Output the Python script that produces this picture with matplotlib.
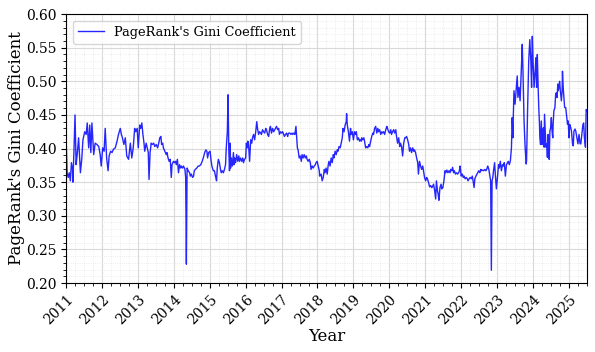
import numpy as np
import pandas as pd
import matplotlib
matplotlib.use("Agg")
import matplotlib.pyplot as plt
from matplotlib.ticker import MultipleLocator, AutoMinorLocator

# decimal year of each snapshot
years = [
    2011.00, 2011.03, 2011.06, 2011.09, 2011.12, 2011.15, 2011.18, 2011.19, 2011.22, 2011.25,
    2011.28, 2011.31, 2011.35, 2011.40, 2011.44, 2011.47, 2011.52, 2011.56, 2011.59, 2011.63,
    2011.66, 2011.69, 2011.72, 2011.77, 2011.81, 2011.86, 2011.91, 2011.95, 2011.98, 2012.02,
    2012.06, 2012.09, 2012.13, 2012.17, 2012.20, 2012.24, 2012.28, 2012.32, 2012.37, 2012.42,
    2012.46, 2012.51, 2012.54, 2012.57, 2012.61, 2012.65, 2012.69, 2012.74, 2012.79, 2012.83,
    2012.87, 2012.91, 2012.94, 2012.98, 2013.01,
    2013.05, 2013.08, 2013.11, 2013.14, 2013.17, 2013.19, 2013.23, 2013.26, 2013.29, 2013.31,
    2013.34, 2013.37, 2013.40, 2013.44, 2013.47, 2013.51, 2013.55, 2013.58, 2013.61, 2013.64,
    2013.66, 2013.69, 2013.71, 2013.75, 2013.79, 2013.81, 2013.84, 2013.87, 2013.90, 2013.93,
    2013.95, 2013.99, 2014.02, 2014.05, 2014.07, 2014.10, 2014.13, 2014.16, 2014.19, 2014.21,
    2014.24, 2014.27, 2014.31, 2014.33, 2014.35, 2014.37, 2014.40, 2014.44, 2014.46, 2014.49,
    2014.52, 2014.55, 2014.57, 2014.60, 2014.64, 2014.68, 2014.71, 2014.75, 2014.79, 2014.82,
    2014.86, 2014.89, 2014.92, 2014.94, 2014.97, 2015.01, 2015.04, 2015.06, 2015.10,
    2015.13, 2015.16, 2015.19, 2015.21, 2015.24, 2015.27, 2015.30, 2015.32, 2015.35, 2015.38,
    2015.41, 2015.44, 2015.46, 2015.49, 2015.51, 2015.53, 2015.55, 2015.57, 2015.58, 2015.60,
    2015.63, 2015.66, 2015.68, 2015.69, 2015.72, 2015.75, 2015.78, 2015.81, 2015.83, 2015.86,
    2015.89, 2015.92, 2015.94, 2015.97, 2016.00, 2016.02, 2016.04, 2016.06, 2016.08, 2016.11,
    2016.14, 2016.17, 2016.19, 2016.22, 2016.25, 2016.28, 2016.31, 2016.33, 2016.36, 2016.39,
    2016.42, 2016.44, 2016.47, 2016.50, 2016.53, 2016.56, 2016.58, 2016.61, 2016.64, 2016.67,
    2016.69, 2016.72, 2016.75, 2016.78, 2016.81, 2016.83, 2016.86, 2016.89, 2016.92, 2016.94,
    2016.97, 2017.00, 2017.03, 2017.06, 2017.08, 2017.11, 2017.14, 2017.17,
    2017.18, 2017.20, 2017.23, 2017.26, 2017.29, 2017.31, 2017.34, 2017.37, 2017.40, 2017.42,
    2017.44, 2017.46, 2017.49, 2017.52, 2017.55, 2017.57, 2017.60, 2017.63, 2017.66, 2017.69,
    2017.71, 2017.74, 2017.77, 2017.80, 2017.82, 2017.85, 2017.88, 2017.91, 2017.94, 2017.96,
    2017.99, 2018.02, 2018.05, 2018.06, 2018.10, 2018.13, 2018.16, 2018.19, 2018.21, 2018.24,
    2018.27, 2018.30, 2018.32, 2018.35, 2018.38, 2018.41, 2018.44, 2018.46, 2018.49, 2018.52,
    2018.55, 2018.57, 2018.60, 2018.63, 2018.66, 2018.69, 2018.71, 2018.74, 2018.77, 2018.80,
    2018.81, 2018.83, 2018.86, 2018.89, 2018.92, 2018.94, 2018.97, 2019.00, 2019.03, 2019.06,
    2019.08, 2019.11, 2019.14, 2019.17, 2019.19, 2019.22,
    2019.23, 2019.26, 2019.29, 2019.31, 2019.34, 2019.37, 2019.40, 2019.43, 2019.45, 2019.48,
    2019.51, 2019.54, 2019.56, 2019.59, 2019.62, 2019.65, 2019.68, 2019.70, 2019.73, 2019.76,
    2019.79, 2019.81, 2019.84, 2019.87, 2019.90, 2019.93, 2019.95, 2019.98, 2020.01, 2020.04,
    2020.06, 2020.09, 2020.12, 2020.15, 2020.18, 2020.20, 2020.23, 2020.26, 2020.29, 2020.31,
    2020.34, 2020.37, 2020.40, 2020.43, 2020.45, 2020.48, 2020.51, 2020.54, 2020.56, 2020.59,
    2020.62, 2020.65, 2020.68, 2020.70, 2020.73, 2020.76, 2020.79, 2020.81, 2020.84, 2020.87,
    2020.90, 2020.93, 2020.95, 2020.98, 2021.01, 2021.04, 2021.06, 2021.09, 2021.12, 2021.15,
    2021.18, 2021.20, 2021.23, 2021.26, 2021.29,
    2021.31, 2021.34, 2021.36, 2021.38, 2021.41, 2021.44, 2021.46, 2021.49, 2021.52, 2021.55,
    2021.57, 2021.60, 2021.63, 2021.66, 2021.69, 2021.71, 2021.74, 2021.76, 2021.79, 2021.81,
    2021.84, 2021.87, 2021.90, 2021.93, 2021.95, 2021.97, 2022.00, 2022.03, 2022.06, 2022.08,
    2022.11, 2022.14, 2022.17, 2022.19, 2022.22, 2022.25, 2022.28, 2022.31, 2022.33, 2022.36,
    2022.38, 2022.41, 2022.44, 2022.46, 2022.49, 2022.52, 2022.55, 2022.57, 2022.60, 2022.63,
    2022.66, 2022.69, 2022.71, 2022.74, 2022.77, 2022.80, 2022.82, 2022.84, 2022.86, 2022.88,
    2022.90, 2022.93, 2022.95, 2022.98, 2023.01, 2023.04, 2023.06, 2023.09, 2023.12, 2023.15,
    2023.18, 2023.20, 2023.23, 2023.26, 2023.29, 2023.31, 2023.34,
    2023.37, 2023.40, 2023.42, 2023.44, 2023.45, 2023.47, 2023.50, 2023.53, 2023.56, 2023.58,
    2023.61, 2023.64, 2023.67, 2023.69, 2023.70, 2023.72, 2023.75, 2023.78, 2023.81, 2023.82,
    2023.85, 2023.88, 2023.91, 2023.94, 2023.96, 2023.98, 2024.00, 2024.03, 2024.06, 2024.08,
    2024.10, 2024.12, 2024.14, 2024.16, 2024.18, 2024.19, 2024.21, 2024.23, 2024.25, 2024.27,
    2024.29, 2024.31, 2024.32, 2024.34, 2024.36, 2024.38, 2024.40, 2024.42, 2024.44, 2024.45,
    2024.47, 2024.49, 2024.51, 2024.53, 2024.55, 2024.56, 2024.58, 2024.61, 2024.63, 2024.65,
    2024.67, 2024.69, 2024.70, 2024.72, 2024.74, 2024.76, 2024.79, 2024.81, 2024.82, 2024.84,
    2024.86, 2024.88, 2024.91, 2024.94, 2024.96, 2024.98, 2025.00, 2025.02, 2025.05, 2025.07,
    2025.10, 2025.12, 2025.14, 2025.17, 2025.19, 2025.22, 2025.25, 2025.28, 2025.31, 2025.33,
    2025.36, 2025.39, 2025.41, 2025.43, 2025.44, 2025.46, 2025.48, 2025.50,
]

gini = [
    0.420, 0.364, 0.357, 0.364, 0.352, 0.379, 0.369, 0.350, 0.396, 0.450,
    0.376, 0.391, 0.416, 0.364, 0.386, 0.413, 0.425, 0.421, 0.438, 0.401,
    0.435, 0.394, 0.438, 0.391, 0.408, 0.406, 0.403, 0.391, 0.374, 0.401,
    0.396, 0.430, 0.386, 0.367, 0.389, 0.396, 0.394, 0.399, 0.401, 0.411,
    0.421, 0.430, 0.421, 0.416, 0.406, 0.416, 0.389, 0.384, 0.408, 0.386,
    0.401, 0.430, 0.425, 0.430, 0.401,
    0.435, 0.430, 0.438, 0.421, 0.408, 0.396, 0.408, 0.401, 0.394, 0.354,
    0.394, 0.408, 0.406, 0.408, 0.403, 0.406, 0.401, 0.408, 0.416, 0.418,
    0.406, 0.408, 0.401, 0.396, 0.391, 0.394, 0.386, 0.381, 0.384, 0.357,
    0.376, 0.381, 0.379, 0.381, 0.376, 0.384, 0.364, 0.376, 0.371, 0.374,
    0.371, 0.374, 0.369, 0.357, 0.228, 0.371, 0.367, 0.364, 0.359, 0.362,
    0.357, 0.359, 0.367, 0.369, 0.371, 0.374, 0.374, 0.376, 0.381, 0.386,
    0.394, 0.398, 0.396, 0.386, 0.394, 0.396, 0.381, 0.374, 0.367,
    0.367, 0.359, 0.352, 0.371, 0.384, 0.379, 0.369, 0.364, 0.367, 0.364,
    0.369, 0.376, 0.401, 0.425, 0.480, 0.401, 0.367, 0.408, 0.371, 0.386,
    0.374, 0.394, 0.376, 0.386, 0.379, 0.391, 0.381, 0.389, 0.381, 0.386,
    0.381, 0.386, 0.379, 0.384, 0.386, 0.408, 0.401, 0.411, 0.406, 0.381,
    0.413, 0.408, 0.416, 0.421, 0.413, 0.425, 0.440, 0.430, 0.421, 0.425,
    0.423, 0.421, 0.428, 0.425, 0.423, 0.430, 0.428, 0.421, 0.418, 0.430,
    0.433, 0.423, 0.430, 0.425, 0.428, 0.430, 0.433, 0.428, 0.430, 0.421,
    0.425, 0.423, 0.425, 0.421, 0.418, 0.421, 0.423, 0.418,
    0.421, 0.423, 0.423, 0.421, 0.423, 0.421, 0.423, 0.421, 0.433, 0.416,
    0.401, 0.398, 0.386, 0.389, 0.381, 0.391, 0.386, 0.391, 0.386, 0.389,
    0.384, 0.381, 0.384, 0.379, 0.369, 0.374, 0.371, 0.374, 0.376, 0.379,
    0.381, 0.374, 0.367, 0.359, 0.362, 0.352, 0.357, 0.369, 0.364, 0.371,
    0.362, 0.376, 0.381, 0.374, 0.386, 0.379, 0.391, 0.386, 0.396, 0.391,
    0.398, 0.396, 0.403, 0.401, 0.408, 0.416, 0.430, 0.425, 0.435, 0.440,
    0.452, 0.435, 0.425, 0.411, 0.430, 0.421, 0.425, 0.413, 0.425, 0.421,
    0.425, 0.413, 0.416, 0.411, 0.413, 0.411,
    0.416, 0.413, 0.416, 0.411, 0.401, 0.403, 0.401, 0.406, 0.403, 0.411,
    0.418, 0.423, 0.421, 0.430, 0.433, 0.423, 0.430, 0.425, 0.428, 0.421,
    0.425, 0.423, 0.425, 0.421, 0.428, 0.433, 0.430, 0.425, 0.423, 0.428,
    0.421, 0.425, 0.428, 0.423, 0.428, 0.418, 0.408, 0.416, 0.403, 0.408,
    0.403, 0.389, 0.408, 0.416, 0.416, 0.418, 0.413, 0.406, 0.396, 0.401,
    0.394, 0.401, 0.396, 0.398, 0.394, 0.386, 0.379, 0.362, 0.381, 0.374,
    0.369, 0.374, 0.367, 0.357, 0.352, 0.357, 0.355, 0.350, 0.343, 0.345,
    0.342, 0.343, 0.347, 0.338, 0.325,
    0.352, 0.337, 0.332, 0.323, 0.342, 0.347, 0.340, 0.342, 0.352, 0.367,
    0.364, 0.368, 0.364, 0.367, 0.364, 0.369, 0.367, 0.372, 0.364, 0.367,
    0.362, 0.364, 0.362, 0.364, 0.367, 0.374, 0.359, 0.362, 0.357, 0.359,
    0.355, 0.357, 0.355, 0.352, 0.355, 0.357, 0.355, 0.359, 0.352, 0.342,
    0.355, 0.359, 0.362, 0.364, 0.367, 0.364, 0.369, 0.367, 0.368, 0.367,
    0.369, 0.367, 0.369, 0.374, 0.369, 0.359, 0.352, 0.219, 0.352, 0.357,
    0.367, 0.379, 0.362, 0.340, 0.357, 0.376, 0.371, 0.381, 0.367, 0.376,
    0.374, 0.379, 0.359, 0.376, 0.379, 0.381, 0.376,
    0.382, 0.402, 0.446, 0.416, 0.446, 0.486, 0.466, 0.486, 0.508, 0.476,
    0.491, 0.471, 0.510, 0.540, 0.555, 0.515, 0.441, 0.402, 0.377, 0.382,
    0.461, 0.530, 0.562, 0.530, 0.491, 0.567, 0.530, 0.491, 0.515, 0.535,
    0.491, 0.540, 0.496, 0.461, 0.436, 0.416, 0.406, 0.441, 0.406, 0.426,
    0.431, 0.402, 0.451, 0.426, 0.402, 0.407, 0.387, 0.421, 0.402, 0.384,
    0.426, 0.431, 0.446, 0.426, 0.416, 0.436, 0.456, 0.461, 0.481, 0.483,
    0.476, 0.496, 0.486, 0.491, 0.500, 0.486, 0.471, 0.486, 0.515, 0.491,
    0.476, 0.461, 0.461, 0.446, 0.436, 0.441, 0.416, 0.436, 0.431, 0.426,
    0.407, 0.404, 0.426, 0.429, 0.426, 0.416, 0.407, 0.421, 0.407, 0.407,
    0.421, 0.436, 0.438, 0.416, 0.411, 0.402, 0.458, 0.456,
]

year_ticks = list(range(2011, 2026))

df = pd.DataFrame({"year": years, "gini": gini})

plt.rcParams["font.family"] = "DejaVu Serif"

fig = plt.figure(figsize=(5.95, 3.52), dpi=100)
ax = fig.add_axes([0.111, 0.196, 0.876, 0.764])

ax.plot(df["year"], df["gini"], color="blue", linewidth=1.0, alpha=0.85,
        label="PageRank's Gini Coefficient")

ax.set_xlim(2011, 2025.51)
ax.set_ylim(0.20, 0.60)

ax.set_xticks(year_ticks)
ax.set_xticklabels([str(y) for y in year_ticks], rotation=45, ha="right",
                   rotation_mode="anchor", fontsize=10)
ax.xaxis.set_minor_locator(MultipleLocator(0.25))
ax.yaxis.set_major_locator(MultipleLocator(0.05))
ax.yaxis.set_minor_locator(AutoMinorLocator(5))
ax.yaxis.set_major_formatter(plt.FormatStrFormatter("%.2f"))
ax.tick_params(axis="y", labelsize=10)

ax.grid(which="major", color="#d9d9d9", linewidth=0.8)
ax.grid(which="minor", color="#e6e6e6", linestyle=":", linewidth=0.6)
ax.set_axisbelow(True)

ax.set_xlabel("Year", fontsize=12, labelpad=0.5)
ax.set_ylabel("PageRank's Gini Coefficient", fontsize=12, labelpad=0.5)

ax.legend(loc="upper left", fontsize=9.3)

fig.savefig("out.png", dpi=100)
